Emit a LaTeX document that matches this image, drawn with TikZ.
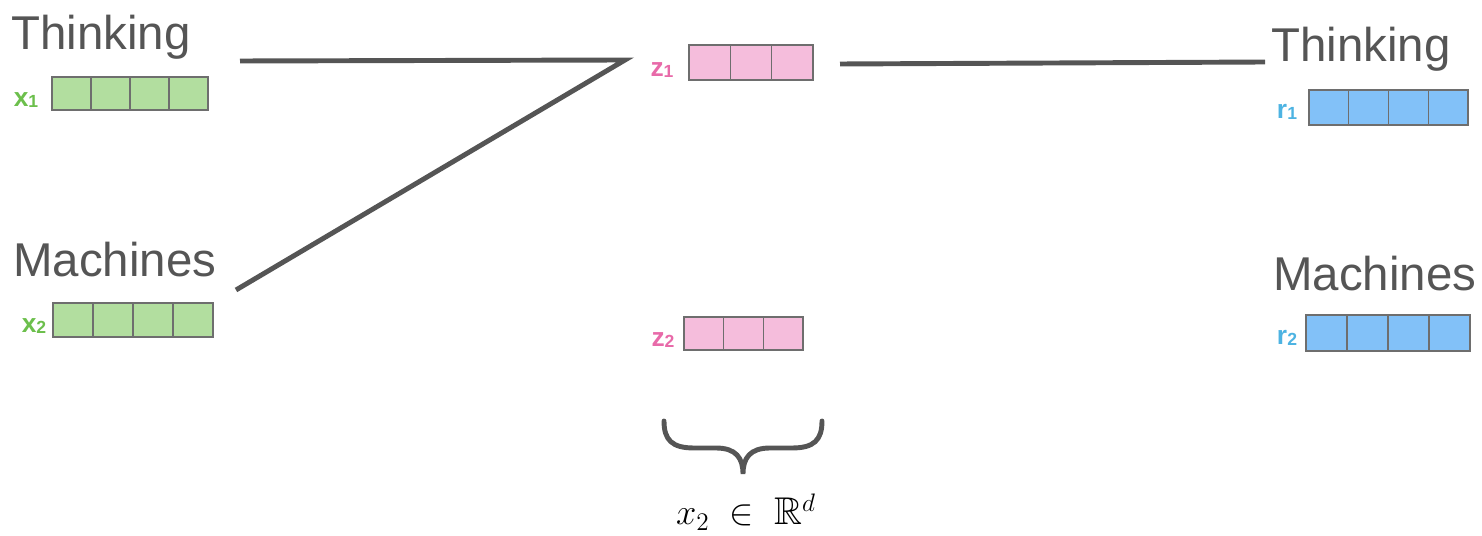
\documentclass[tikz,border=0pt]{standalone}
\usepackage{amsmath}
\usepackage{amssymb}
\usepackage{fontspec}
\setmainfont{Liberation Sans}
\usepackage{tikz}
\usetikzlibrary{positioning}

\definecolor{wordgray}{HTML}{555555}
\definecolor{cellgray}{HTML}{6E6E6E}
\definecolor{embgreen}{HTML}{B2DE9F}
\definecolor{labgreen}{HTML}{6CBF4C}
\definecolor{zpink}{HTML}{F5BDDC}
\definecolor{labpink}{HTML}{E86AA9}
\definecolor{rblue}{HTML}{82C1F8}
\definecolor{labblue}{HTML}{4DB3E2}

\newcommand{\veclab}[2]{{\fontsize{15}{16}\selectfont\bfseries #1}\raisebox{-1pt}{\fontsize{10}{11}\selectfont\bfseries #2}}

\begin{document}
\begin{tikzpicture}[x=0.02cm, y=-0.02cm,
  word/.style={anchor=base west, text=wordgray, font=\fontsize{27}{30}\selectfont, inner sep=0pt},
  vcell/.style={draw=cellgray, line width=0.7pt, inner sep=0pt, outer sep=0pt, anchor=north west},
  link/.style={draw=wordgray, line width=2.8pt}]
\useasboundingbox (0,0) rectangle (1482,536);

% words
\node[word] (thinkL) at (11,50) {Thinking};
\node[word] (machL) at (13,277) {Machines};
\node[word] (thinkR) at (1271,62) {Thinking};
\node[word] (machR) at (1273,291) {Machines};

% input embeddings
\node[text=labgreen] (labx1) at (26,100) {\veclab{x}{1}};
\foreach \i in {0,...,3}
  \node[vcell, fill=embgreen, minimum width=0.78cm, minimum height=0.66cm] (x1-\i) at ({52+39*\i},77) {};
\node[text=labgreen] (labx2) at (34,326) {\veclab{x}{2}};
\foreach \i in {0,...,3}
  \node[vcell, fill=embgreen, minimum width=0.8cm, minimum height=0.68cm] (x2-\i) at ({53+40*\i},303) {};

% hidden vectors
\node[text=labpink] (labz1) at (662,70) {\veclab{z}{1}};
\foreach \i in {0,...,2}
  \node[vcell, fill=zpink, minimum width=0.827cm, minimum height=0.7cm] (z1-\i) at ({689+41.3*\i},45) {};
\node[text=labpink] (labz2) at (663,340) {\veclab{z}{2}};
\foreach \i in {0,...,2}
  \node[vcell, fill=zpink, minimum width=0.793cm, minimum height=0.66cm] (z2-\i) at ({684+39.7*\i},317) {};

% outputs
\node[text=labblue] (labr1) at (1287,112) {\veclab{r}{1}};
\foreach \i in {0,...,3}
  \node[vcell, fill=rblue, minimum width=0.795cm, minimum height=0.7cm] (r1-\i) at ({1309+39.75*\i},90) {};
\node[text=labblue] (labr2) at (1287,338) {\veclab{r}{2}};
\foreach \i in {0,...,3}
  \node[vcell, fill=rblue, minimum width=0.82cm, minimum height=0.72cm] (r2-\i) at ({1306+41*\i},315) {};

% connections
\coordinate (thinkOut) at (240,61);
\coordinate (machOut) at (236,290);
\coordinate (zIn) at (625,60);
\coordinate (zOut) at (840,64);
\coordinate (rIn) at (1265,62);
\draw[link] (thinkOut) -- (zIn) -- (machOut);
\draw[link] (zOut) -- (rIn);

% brace under z2
\draw[draw=wordgray, line width=2.8pt, line cap=round]
  (664,421) .. controls (664,440) and (672,448) .. (694,448) -- (716,448)
  .. controls (736,448) and (743,458) .. (743,474)
  .. controls (743,458) and (750,448) .. (770,448) -- (792,448)
  .. controls (814,448) and (822,440) .. (822,421);
\node (dimlab) at (746,512) {\fontsize{22}{26}\selectfont$x_2 \;\in\; \mathbb{R}^d$};
\end{tikzpicture}
\end{document}
